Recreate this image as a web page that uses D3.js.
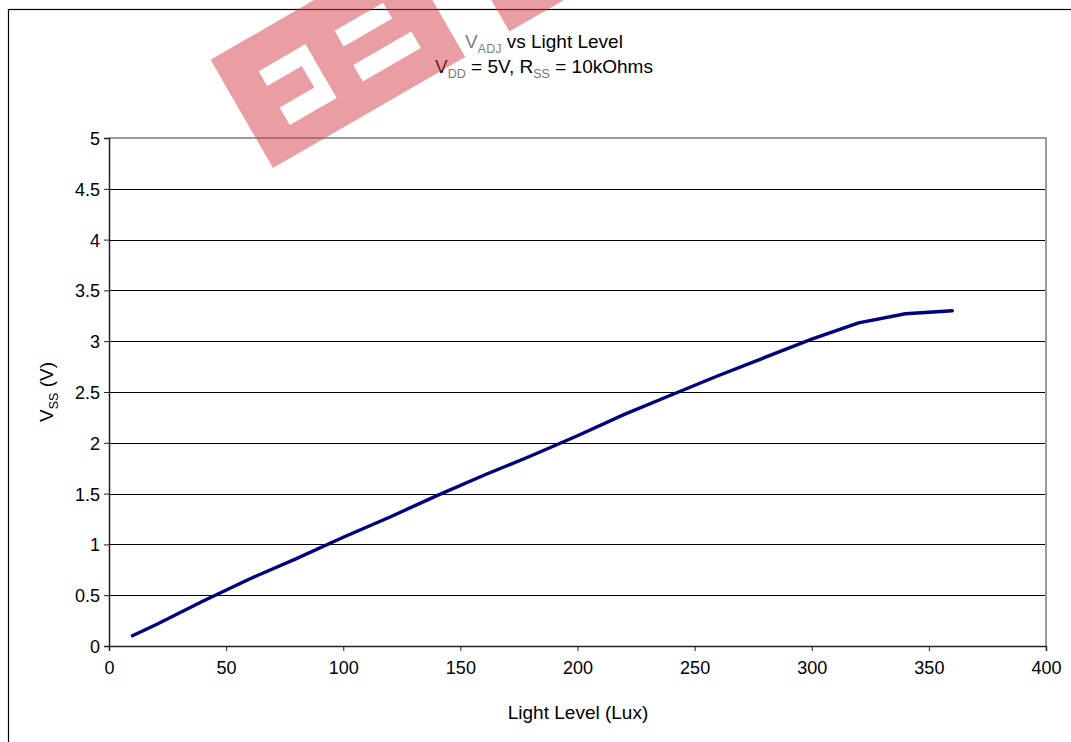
<!DOCTYPE html>
<html>
<head>
<meta charset="utf-8">
<script src="https://cdn.jsdelivr.net/npm/d3@7"></script>
<style>
  html, body { margin: 0; padding: 0; background: #fff; }
  text { font-family: "Liberation Sans", Arial, sans-serif; }
</style>
</head>
<body>
<svg id="chart" width="1071" height="742"></svg>
<script>
// data
const lux = [10, 20, 40, 60, 80, 100, 120, 140, 160, 180, 200, 220, 240, 260, 280, 300, 320, 340, 360];
const vss = [0.10, 0.21, 0.44, 0.66, 0.86, 1.07, 1.27, 1.48, 1.68, 1.87, 2.07, 2.28, 2.47, 2.66, 2.84, 3.02, 3.18, 3.27, 3.30];
const xTicks = [0, 50, 100, 150, 200, 250, 300, 350, 400];
const yTicks = [0, 0.5, 1, 1.5, 2, 2.5, 3, 3.5, 4, 4.5, 5];

const svg = d3.select("#chart");
const W = 1071, H = 742;
const margin = { left: 109, top: 138, right: W - 1046, bottom: H - 646 };
const plotW = W - margin.left - margin.right;
const plotH = H - margin.top - margin.bottom;

// outer chart frame
svg.append("rect")
    .attr("x", 8.5).attr("y", 9.5)
    .attr("width", 1070).attr("height", 800)
    .attr("fill", "#fff")
    .attr("stroke", "#000")
    .attr("stroke-width", 1.2);

const x = d3.scaleLinear().domain([0, 400]).range([0, plotW]);
const y = d3.scaleLinear().domain([0, 5]).range([plotH, 0]);

const g = svg.append("g").attr("transform", `translate(${margin.left},${margin.top})`);

// gridlines
g.append("g")
    .selectAll("line")
    .data(yTicks.filter(d => d > 0 && d < 5))
    .join("line")
    .attr("x1", 0).attr("x2", plotW)
    .attr("y1", d => Math.round(y(d)) + 0.5)
    .attr("y2", d => Math.round(y(d)) + 0.5)
    .attr("stroke", "#000")
    .attr("stroke-width", 1);

// plot area border (top and right in gray)
g.append("path")
    .attr("d", `M0,${y(5)}H${plotW}V${plotH}`)
    .attr("fill", "none")
    .attr("stroke", "#9a9a9a")
    .attr("stroke-width", 2);

// axes
const fmt = d => String(d);
const yAxis = g.append("g")
    .call(d3.axisLeft(y).tickValues(yTicks).tickFormat(fmt).tickSize(5).tickPadding(4));
const xAxis = g.append("g")
    .attr("transform", `translate(0,${plotH})`)
    .call(d3.axisBottom(x).tickValues(xTicks).tickFormat(fmt).tickSize(5).tickPadding(10));

[xAxis, yAxis].forEach(a => {
    a.selectAll("path").attr("stroke", "#222").attr("stroke-width", 1.5);
    a.selectAll("line").attr("stroke", "#222");
    a.selectAll("text")
        .attr("font-family", "Liberation Sans, Arial, sans-serif")
        .attr("font-size", 18)
        .attr("fill", "#000");
});
yAxis.selectAll("text").attr("dy", "0.36em");

// the data line
const line = d3.line()
    .x((d, i) => x(lux[i]))
    .y(d => y(d));

g.append("path")
    .datum(vss)
    .attr("d", line)
    .attr("fill", "none")
    .attr("stroke", "#000080")
    .attr("stroke-width", 3.4)
    .attr("stroke-linejoin", "round")
    .attr("stroke-linecap", "round");

// title, two lines with subscripts
const t1 = svg.append("text")
    .attr("x", 544).attr("y", 48)
    .attr("text-anchor", "middle")
    .attr("font-size", 19);
t1.append("tspan").attr("fill", "#808080").text("V");
t1.append("tspan").attr("fill", "#808080").attr("font-size", 12.5).attr("dy", 5).text("ADJ");
t1.append("tspan").attr("fill", "#000").attr("dy", -5).text(" vs Light Level");

const t2 = svg.append("text")
    .attr("x", 544).attr("y", 73)
    .attr("text-anchor", "middle")
    .attr("font-size", 19)
    .attr("fill", "#000");
t2.append("tspan").text("V");
t2.append("tspan").attr("fill", "#777").attr("font-size", 12.5).attr("dy", 5).text("DD");
t2.append("tspan").attr("dy", -5).text(" = 5V, R");
t2.append("tspan").attr("fill", "#777").attr("font-size", 12.5).attr("dy", 5).text("SS");
t2.append("tspan").attr("dy", -5).text(" = 10kOhms");

// axis titles
svg.append("text")
    .attr("x", 578).attr("y", 719)
    .attr("text-anchor", "middle")
    .attr("font-size", 19)
    .attr("fill", "#000")
    .text("Light Level (Lux)");

const yl = svg.append("text")
    .attr("transform", "translate(53,392) rotate(-90)")
    .attr("text-anchor", "middle")
    .attr("font-size", 19)
    .attr("fill", "#000");
yl.append("tspan").text("V");
yl.append("tspan").attr("font-size", 12.5).attr("dy", 5).text("SS");
yl.append("tspan").attr("dy", -5).text(" (V)");

// watermark stamp, rotated band with cut-out letters
const defs = svg.append("defs");
const mask = defs.append("mask").attr("id", "wm-mask")
    .attr("maskUnits", "userSpaceOnUse")
    .attr("x", -100).attr("y", -300).attr("width", 600).attr("height", 500);
mask.append("rect").attr("x", -100).attr("y", -300).attr("width", 600).attr("height", 500).attr("fill", "#fff");
// [u0, u1, v0, v1] in band coordinates
const cutouts = [
    [36, 90, 74, 91],
    [36, 90, 29, 49],
    [76, 90, 29, 91],
    [122, 178, 70, 88],
    [121, 188, 30, 49]
];
mask.selectAll("rect.cut")
    .data(cutouts)
    .join("rect")
    .attr("class", "cut")
    .attr("x", d => d[0]).attr("y", d => -d[3])
    .attr("width", d => d[1] - d[0]).attr("height", d => d[3] - d[2])
    .attr("fill", "#000");

const bands = [[0, 222, 0, 125], [273, 380, 0, 125]];
svg.append("g")
    .attr("transform", "translate(273,168) rotate(-30)")
    .attr("mask", "url(#wm-mask)")
    .attr("opacity", 0.5)
    .selectAll("rect")
    .data(bands)
    .join("rect")
    .attr("x", d => d[0]).attr("y", d => -d[3])
    .attr("width", d => d[1] - d[0]).attr("height", d => d[3] - d[2])
    .attr("fill", "#d4404a");
</script>
</body>
</html>
